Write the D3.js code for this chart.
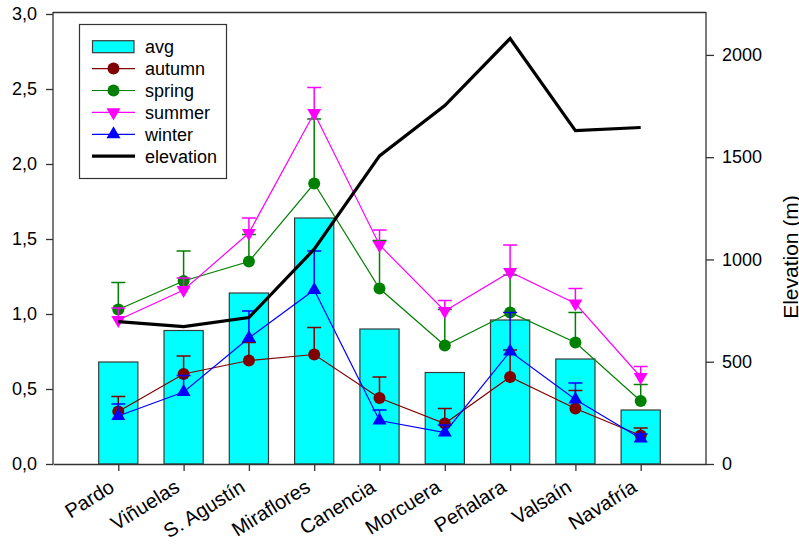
<!DOCTYPE html>
<html>
<head>
<meta charset="utf-8">
<script src="https://cdn.jsdelivr.net/npm/d3@7/dist/d3.min.js"></script>
<style>
  body { margin: 0; background: #fff; }
  svg { display: block; font-family: "Liberation Sans", Arial, sans-serif; }
</style>
</head>
<body>
<svg id="chart" width="799" height="549"></svg>
<script>
const categories = ["Pardo","Viñuelas","S. Agustín","Miraflores","Canencia","Morcuera","Peñalara","Valsaín","Navafría"];
const avg       = [0.68, 0.89, 1.14, 1.64, 0.90, 0.61, 0.96, 0.70, 0.36];
const autumn    = [0.35, 0.60, 0.69, 0.73, 0.44, 0.27, 0.58, 0.37, 0.19];
const autumnTop = [0.45, 0.72, 0.81, 0.91, 0.58, 0.37, 0.76, 0.49, 0.24];
const spring    = [1.03, 1.22, 1.35, 1.87, 1.17, 0.79, 1.01, 0.81, 0.42];
const springTop = [1.21, 1.42, 1.53, 2.30, 1.49, 1.03, 1.26, 1.01, 0.53];
const summer    = [0.96, 1.16, 1.54, 2.34, 1.46, 1.02, 1.28, 1.07, 0.58];
const summerTop = [1.04, 1.24, 1.64, 2.51, 1.56, 1.09, 1.46, 1.17, 0.65];
const winter    = [0.32, 0.48, 0.84, 1.16, 0.29, 0.21, 0.75, 0.43, 0.17];
const winterTop = [0.40, 0.59, 1.02, 1.42, 0.36, 0.26, 1.01, 0.54, 0.20];
const elevation = [696, 672, 716, 1050, 1506, 1752, 2080, 1630, 1645];
const leftTicks  = [0, 0.5, 1.0, 1.5, 2.0, 2.5, 3.0];
const rightTicks = [0, 500, 1000, 1500, 2000];

const svg = d3.select("#chart");
const L = 53, R = 706, T = 14, B = 464;

const x = d3.scalePoint().domain(categories).range([L, R]).padding(1);
const y = d3.scaleLinear().domain([0, 3]).range([B, T]);
const y2 = d3.scaleLinear().domain([0, 2200]).range([B, T]);
const barW = x.step() * 0.6;

// bars
svg.append("g").selectAll("rect").data(avg).join("rect")
  .attr("x", (d, i) => x(categories[i]) - barW / 2)
  .attr("y", d => y(d))
  .attr("width", barW)
  .attr("height", d => B - y(d))
  .attr("fill", "#00FFFF")
  .attr("stroke", "#3a3a3a")
  .attr("stroke-width", 1.2);

const series = [
  {name: "autumn", vals: autumn, top: autumnTop, color: "#800000", sym: "circle"},
  {name: "spring", vals: spring, top: springTop, color: "#008000", sym: "circle"},
  {name: "summer", vals: summer, top: summerTop, color: "#FF00FF", sym: "down"},
  {name: "winter", vals: winter, top: winterTop, color: "#0000FF", sym: "up"}
];

function marker(g, sym, color) {
  if (sym === "circle") {
    g.append("circle").attr("r", 6).attr("fill", color);
  } else {
    const p = d3.symbol().type(d3.symbolTriangle).size(85)();
    g.append("path").attr("d", p).attr("fill", color)
      .attr("transform", sym === "down" ? "rotate(180)" : null);
  }
}

const line = d3.line();
series.forEach(s => {
  const g = svg.append("g");
  s.vals.forEach((v, i) => {
    const cx = x(categories[i]);
    g.append("line").attr("x1", cx).attr("x2", cx).attr("y1", y(v)).attr("y2", y(s.top[i]))
      .attr("stroke", s.color).attr("stroke-width", 1.5);
    g.append("line").attr("x1", cx - 7).attr("x2", cx + 7).attr("y1", y(s.top[i])).attr("y2", y(s.top[i]))
      .attr("stroke", s.color).attr("stroke-width", 1.5);
  });
  g.append("path")
    .attr("d", line(s.vals.map((v, i) => [x(categories[i]), y(v)])))
    .attr("fill", "none").attr("stroke", s.color).attr("stroke-width", 1.2);
  s.vals.forEach((v, i) => {
    const mg = g.append("g").attr("transform", `translate(${x(categories[i])},${y(v)})`);
    marker(mg, s.sym, s.color);
  });
});

// elevation
svg.append("path")
  .attr("d", line(elevation.map((v, i) => [x(categories[i]), y2(v)])))
  .attr("fill", "none").attr("stroke", "#000").attr("stroke-width", 3.2)
  .attr("stroke-linejoin", "miter");

// frame top
svg.append("line").attr("x1", L).attr("x2", R).attr("y1", 12.5).attr("y2", 12.5)
  .attr("stroke", "#333").attr("stroke-width", 1.3);

// axes
const fmt = d => d3.format(".1f")(d).replace(".", ",");
const gl = svg.append("g").attr("transform", `translate(${L},0)`)
  .call(d3.axisLeft(y).tickValues(leftTicks).tickFormat(fmt).tickSize(7).tickPadding(9).tickSizeOuter(0));
const gr = svg.append("g").attr("transform", `translate(${R},0)`)
  .call(d3.axisRight(y2).tickValues(rightTicks).tickFormat(d3.format("d")).tickSize(8).tickPadding(8).tickSizeOuter(0));
const gb = svg.append("g").attr("transform", `translate(0,${B})`)
  .call(d3.axisBottom(x).tickSize(7).tickSizeOuter(0));
[gl, gr].forEach(g => g.select(".domain").attr("d", null));
svg.append("line").attr("x1", L).attr("x2", L).attr("y1", 12).attr("y2", B).attr("stroke", "#333").attr("stroke-width", 1.3);
svg.append("line").attr("x1", R).attr("x2", R).attr("y1", 12).attr("y2", B).attr("stroke", "#333").attr("stroke-width", 1.3);
[gl, gr, gb].forEach(g => {
  g.selectAll("line").attr("stroke", "#333").attr("stroke-width", 1.3);
  g.select(".domain").attr("stroke", "#333").attr("stroke-width", 1.3);
  g.selectAll("text").attr("font-size", 18).attr("fill", "#000")
    .attr("font-family", '"Liberation Sans", Arial, sans-serif');
});
gb.selectAll("text")
  .attr("font-size", 20)
  .attr("text-anchor", "end")
  .attr("dy", null)
  .attr("y", null)
  .attr("transform", "translate(-3,26.5) rotate(-32)");

// right axis title
svg.append("text")
  .attr("transform", "translate(798,257) rotate(-90)")
  .attr("text-anchor", "middle")
  .attr("font-size", 21)
  .text("Elevation (m)");

// legend
const lg = svg.append("g");
lg.append("rect").attr("x", 79.5).attr("y", 24.5).attr("width", 147).attr("height", 154)
  .attr("fill", "#fff").attr("stroke", "#333").attr("stroke-width", 1.2);
const legendItems = [
  {name: "avg", type: "bar"},
  ...series.map(s => ({name: s.name, type: "series", s})),
  {name: "elevation", type: "elev"}
];
const rowY = i => 46.7 + i * 21.9;
legendItems.forEach((it, i) => {
  const cy = rowY(i);
  const g = lg.append("g");
  if (it.type === "bar") {
    g.append("rect").attr("x", 92.5).attr("y", cy - 6).attr("width", 41.5).attr("height", 12)
      .attr("fill", "#00FFFF").attr("stroke", "#3a3a3a").attr("stroke-width", 1.2);
  } else if (it.type === "series") {
    g.append("line").attr("x1", 92).attr("x2", 135).attr("y1", cy).attr("y2", cy)
      .attr("stroke", it.s.color).attr("stroke-width", 1.2);
    const mg = g.append("g").attr("transform", `translate(113.5,${cy})`);
    marker(mg, it.s.sym, it.s.color);
  } else {
    g.append("line").attr("x1", 92).attr("x2", 135).attr("y1", cy).attr("y2", cy)
      .attr("stroke", "#000").attr("stroke-width", 3.2);
  }
  g.append("text").attr("x", 145).attr("y", cy + 6.5).attr("font-size", 18).text(it.name);
});
</script>
</body>
</html>
